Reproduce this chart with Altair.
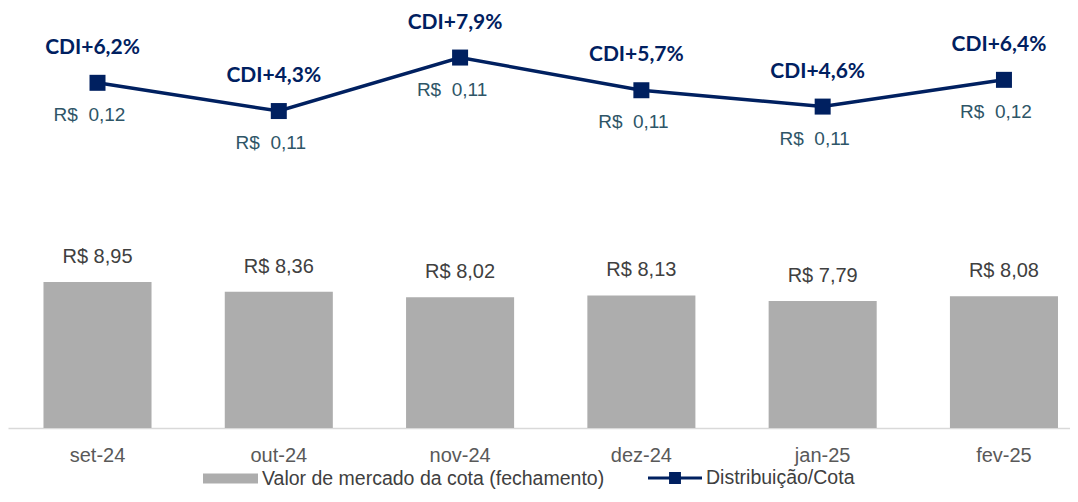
import altair as alt
import pandas as pd

# ---- data ----
meses = ["set-24", "out-24", "nov-24", "dez-24", "jan-25", "fev-25"]
valor_mercado = [8.95, 8.36, 8.02, 8.13, 7.79, 8.08]      # R$ per cota (bars)
spread_cdi = [6.2, 4.3, 7.9, 5.7, 4.6, 6.4]                 # CDI + x% (line position)
distribuicao = [0.12, 0.11, 0.11, 0.11, 0.11, 0.12]         # R$ distributed per cota
serie_barra = "Valor de mercado da cota (fechamento)"
serie_linha = "Distribuição/Cota"


def brl(v):
    return f"{v:.2f}".replace(".", ",")


df = pd.DataFrame({
    "mes": meses,
    "valor": valor_mercado,
    "spread": spread_cdi,
    "dist": distribuicao,
    "lbl_valor": ["R$ " + brl(v) for v in valor_mercado],
    "lbl_cdi": ["CDI+" + f"{s:.1f}".replace(".", ",") + "%" for s in spread_cdi],
    "lbl_dist": ["R$\u00a0 " + brl(d) for d in distribuicao],
    "serie_b": serie_barra,
    "serie_l": serie_linha,
})

NAVY = "#002060"
GRAY = "#ADADAD"
TXT = "#404040"
FONT = "Liberation Sans"

x = alt.X(
    "mes:N", sort=meses, title=None,
    scale=alt.Scale(paddingInner=0.404, paddingOuter=0.131, align=0.747),
    axis=alt.Axis(labelAngle=0, ticks=False, labelPadding=17, labelFontSize=20,
                  labelColor="#595959", labelFont=FONT, domainColor="#D9D9D9",
                  domainWidth=1.5, grid=False),
)
y_bar = alt.Y("valor:Q", axis=None,
              scale=alt.Scale(domain=[0, 25.63], nice=False, zero=True))
y_line = alt.Y("spread:Q", axis=None,
               scale=alt.Scale(domain=[-17.03, 11.10], nice=False, zero=False))

base = alt.Chart(df)

bars = base.mark_bar(color=GRAY).encode(
    x=x, y=y_bar,
    color=alt.Color(
        "serie_b:N",
        scale=alt.Scale(domain=[serie_barra], range=[GRAY]),
        legend=alt.Legend(orient="none", legendX=195, legendY=441, title=None,
                          symbolType="M-1,-0.18H1V0.18H-1Z", symbolSize=3025,
                          symbolStrokeWidth=0, labelFontSize=19.5, labelColor=TXT,
                          labelFont=FONT, padding=0, labelOffset=4, labelLimit=600),
    ),
)

bar_text = base.mark_text(dy=-25, baseline="middle", fontSize=20, font=FONT,
                          color=TXT).encode(x=x, y=y_bar, text="lbl_valor:N")

line = base.mark_line(color=NAVY, strokeWidth=3.5).encode(x=x, y=y_line)

squares = base.mark_square(size=256, opacity=1, filled=True).encode(
    x=x, y=y_line,
    color=alt.Color(
        "serie_l:N",
        scale=alt.Scale(domain=[serie_linha], range=[NAVY]),
        legend=alt.Legend(orient="none", legendX=640, legendY=441, title=None,
                          symbolType="M-1,-0.055H1V0.055H-1Z M-0.22,-0.22H0.22V0.22H-0.22Z",
                          symbolSize=2916, symbolStrokeWidth=0, labelFontSize=19.5,
                          labelColor=TXT, labelFont=FONT, padding=0, labelOffset=4,
                          labelLimit=600),
    ),
)

cdi_text = base.mark_text(dy=-35, dx=-5, baseline="middle", fontWeight="bold",
                          font="Lato", fontSize=21, color=NAVY).encode(
    x=x, y=y_line, text="lbl_cdi:N")

dist_text = base.mark_text(dy=32, dx=-8, baseline="middle", font=FONT,
                           fontSize=19, color="#2E5567").encode(
    x=x, y=y_line, text="lbl_dist:N")

chart = (
    alt.layer(bars, bar_text, line, squares, cdi_text, dist_text)
    .resolve_scale(y="independent", color="independent")
    .properties(width=1062, height=418,
                autosize=alt.AutoSizeParams(type="none"),
                padding={"left": 0, "top": 2, "right": 0, "bottom": 63})
    .configure_view(stroke=None)
)

chart.save("out.html", embed_options={"renderer": "svg", "actions": False})
